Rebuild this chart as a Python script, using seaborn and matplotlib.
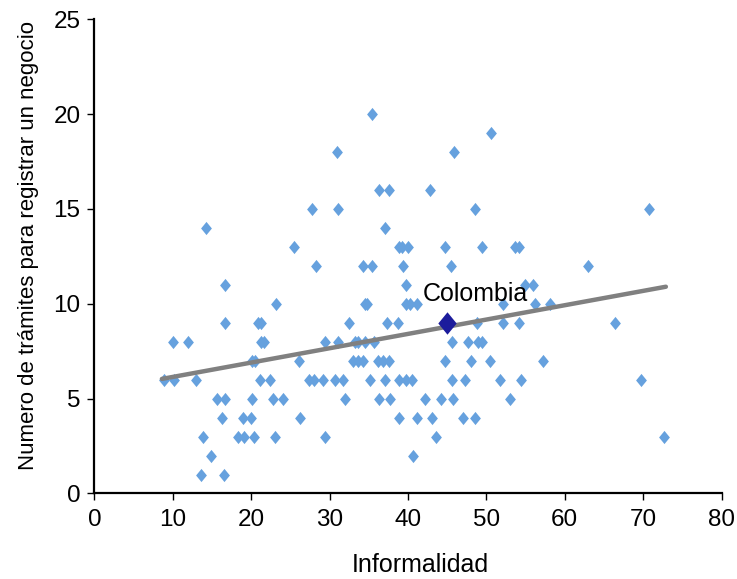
import pandas as pd
import matplotlib
matplotlib.use('Agg')
import matplotlib.pyplot as plt
import seaborn as sns

## --- datos (informalidad vs numero de tramites) ---
informalidad = [
    35.4,
    50.6,
    31.0, 45.9,
    36.3, 37.6, 42.8,
    27.7, 31.1, 48.5, 70.8,
    14.2, 37.1,
    25.4, 38.8, 39.2, 40.0, 44.7, 49.5, 53.6, 54.1,
    28.3, 34.2, 35.4, 39.4, 45.5, 63.0,
    16.6, 39.7, 54.9, 56.0,
    23.1, 34.5, 34.8, 39.7, 40.3, 41.2, 52.1, 56.2, 58.1,
    16.6, 20.9, 21.2, 32.5, 37.3, 38.7, 48.8, 52.1, 54.2, 66.4,
    10.0, 11.9, 21.2, 21.6, 29.4, 31.1, 33.2, 33.6, 34.5, 35.7, 45.6, 47.7, 48.9, 49.4,
    20.1, 20.5, 26.1, 33.0, 33.6, 34.2, 36.2, 36.8, 37.6, 44.7, 48.1, 50.4, 57.2,
    8.9, 10.2, 13.0, 21.1, 22.4, 27.4, 28.0, 29.1, 30.7, 31.7, 35.1, 37.1, 38.8, 39.8, 40.5, 45.6, 47.3, 51.7, 54.4, 69.7,
    15.6, 16.6, 20.1, 22.8, 24.1, 32.0, 36.3, 37.7, 42.2, 44.2, 45.7, 53.0,
    16.3, 18.9, 20.0, 26.2, 38.9, 41.2, 43.0, 47.0, 48.5,
    13.9, 18.3, 19.1, 20.3, 23.0, 29.4, 43.6, 72.6,
    14.9, 40.7,
    13.6, 16.5,
]
tramites = [
    20,
    19,
    18, 18,
    16, 16, 16,
    15, 15, 15, 15,
    14, 14,
    13, 13, 13, 13, 13, 13, 13, 13,
    12, 12, 12, 12, 12, 12,
    11, 11, 11, 11,
    10, 10, 10, 10, 10, 10, 10, 10, 10,
    9, 9, 9, 9, 9, 9, 9, 9, 9, 9,
    8, 8, 8, 8, 8, 8, 8, 8, 8, 8, 8, 8, 8, 8,
    7, 7, 7, 7, 7, 7, 7, 7, 7, 7, 7, 7, 7,
    6, 6, 6, 6, 6, 6, 6, 6, 6, 6, 6, 6, 6, 6, 6, 6, 6, 6, 6, 6,
    5, 5, 5, 5, 5, 5, 5, 5, 5, 5, 5, 5,
    4, 4, 4, 4, 4, 4, 4, 4, 4,
    3, 3, 3, 3, 3, 3, 3, 3,
    2, 2,
    1, 1,
]

# Colombia destacada
colombia_x = [45.0]
colombia_y = [9]

# linea de tendencia (extremos)
tendencia_x = [8.6, 72.9]
tendencia_y = [6.04, 10.9]

x_ticks = [0, 10, 20, 30, 40, 50, 60, 70, 80]
y_ticks = [0, 5, 10, 15, 20, 25]

paises = pd.DataFrame({'informalidad': informalidad, 'tramites': tramites})
colombia = pd.DataFrame({'informalidad': colombia_x, 'tramites': colombia_y})
tendencia = pd.DataFrame({'informalidad': tendencia_x, 'tramites': tendencia_y})

sns.set_style('white')
plt.rcParams['font.family'] = ['Liberation Sans', 'DejaVu Sans']
plt.rcParams['text.color'] = 'black'
plt.rcParams['axes.labelcolor'] = 'black'

# rombo tipo Excel (un poco mas alto que ancho)
rombo = [(0, 0.5), (0.41, 0), (0, -0.5), (-0.41, 0), (0, 0.5)]

fig = plt.figure(figsize=(7.37, 5.79), dpi=100)
ax = fig.add_axes([0.1282, 0.1477, 0.8508, 0.819])

sns.scatterplot(data=paises, x='informalidad', y='tramites', marker=rombo,
                s=90, color='#66A1DE', linewidth=0, ax=ax, zorder=2)
sns.lineplot(data=tendencia, x='informalidad', y='tramites', color='#808080',
             linewidth=3.2, ax=ax, zorder=3)
sns.scatterplot(data=colombia, x='informalidad', y='tramites', marker=rombo,
                s=260, color='#1C1C9C', linewidth=0, ax=ax, zorder=4)
ax.text(48.6, 10.5, 'Colombia', ha='center', va='center', fontsize=18,
        color='black', zorder=5)

ax.set_xlim(0, 80)
ax.set_ylim(0, 25)
ax.set_xticks(x_ticks)
ax.set_yticks(y_ticks)
ax.tick_params(axis='both', direction='out', length=5, width=1, labelsize=17.5,
               color='black', labelcolor='black', bottom=True, left=True)
ax.tick_params(axis='x', pad=6)
ax.tick_params(axis='y', pad=5)

for lado in ['top', 'right']:
    ax.spines[lado].set_visible(False)
for lado in ['left', 'bottom']:
    ax.spines[lado].set_color('black')
    ax.spines[lado].set_linewidth(1.6)

ax.set_xlabel('Informalidad', fontsize=18, color='black')
ax.set_ylabel('Numero de trámites para registrar un negocio', fontsize=16,
              color='black')
ax.xaxis.set_label_coords(0.52, -0.1255)
ax.yaxis.set_label_coords(-0.0885, 0.524)

fig.savefig('out.png', dpi=100)
